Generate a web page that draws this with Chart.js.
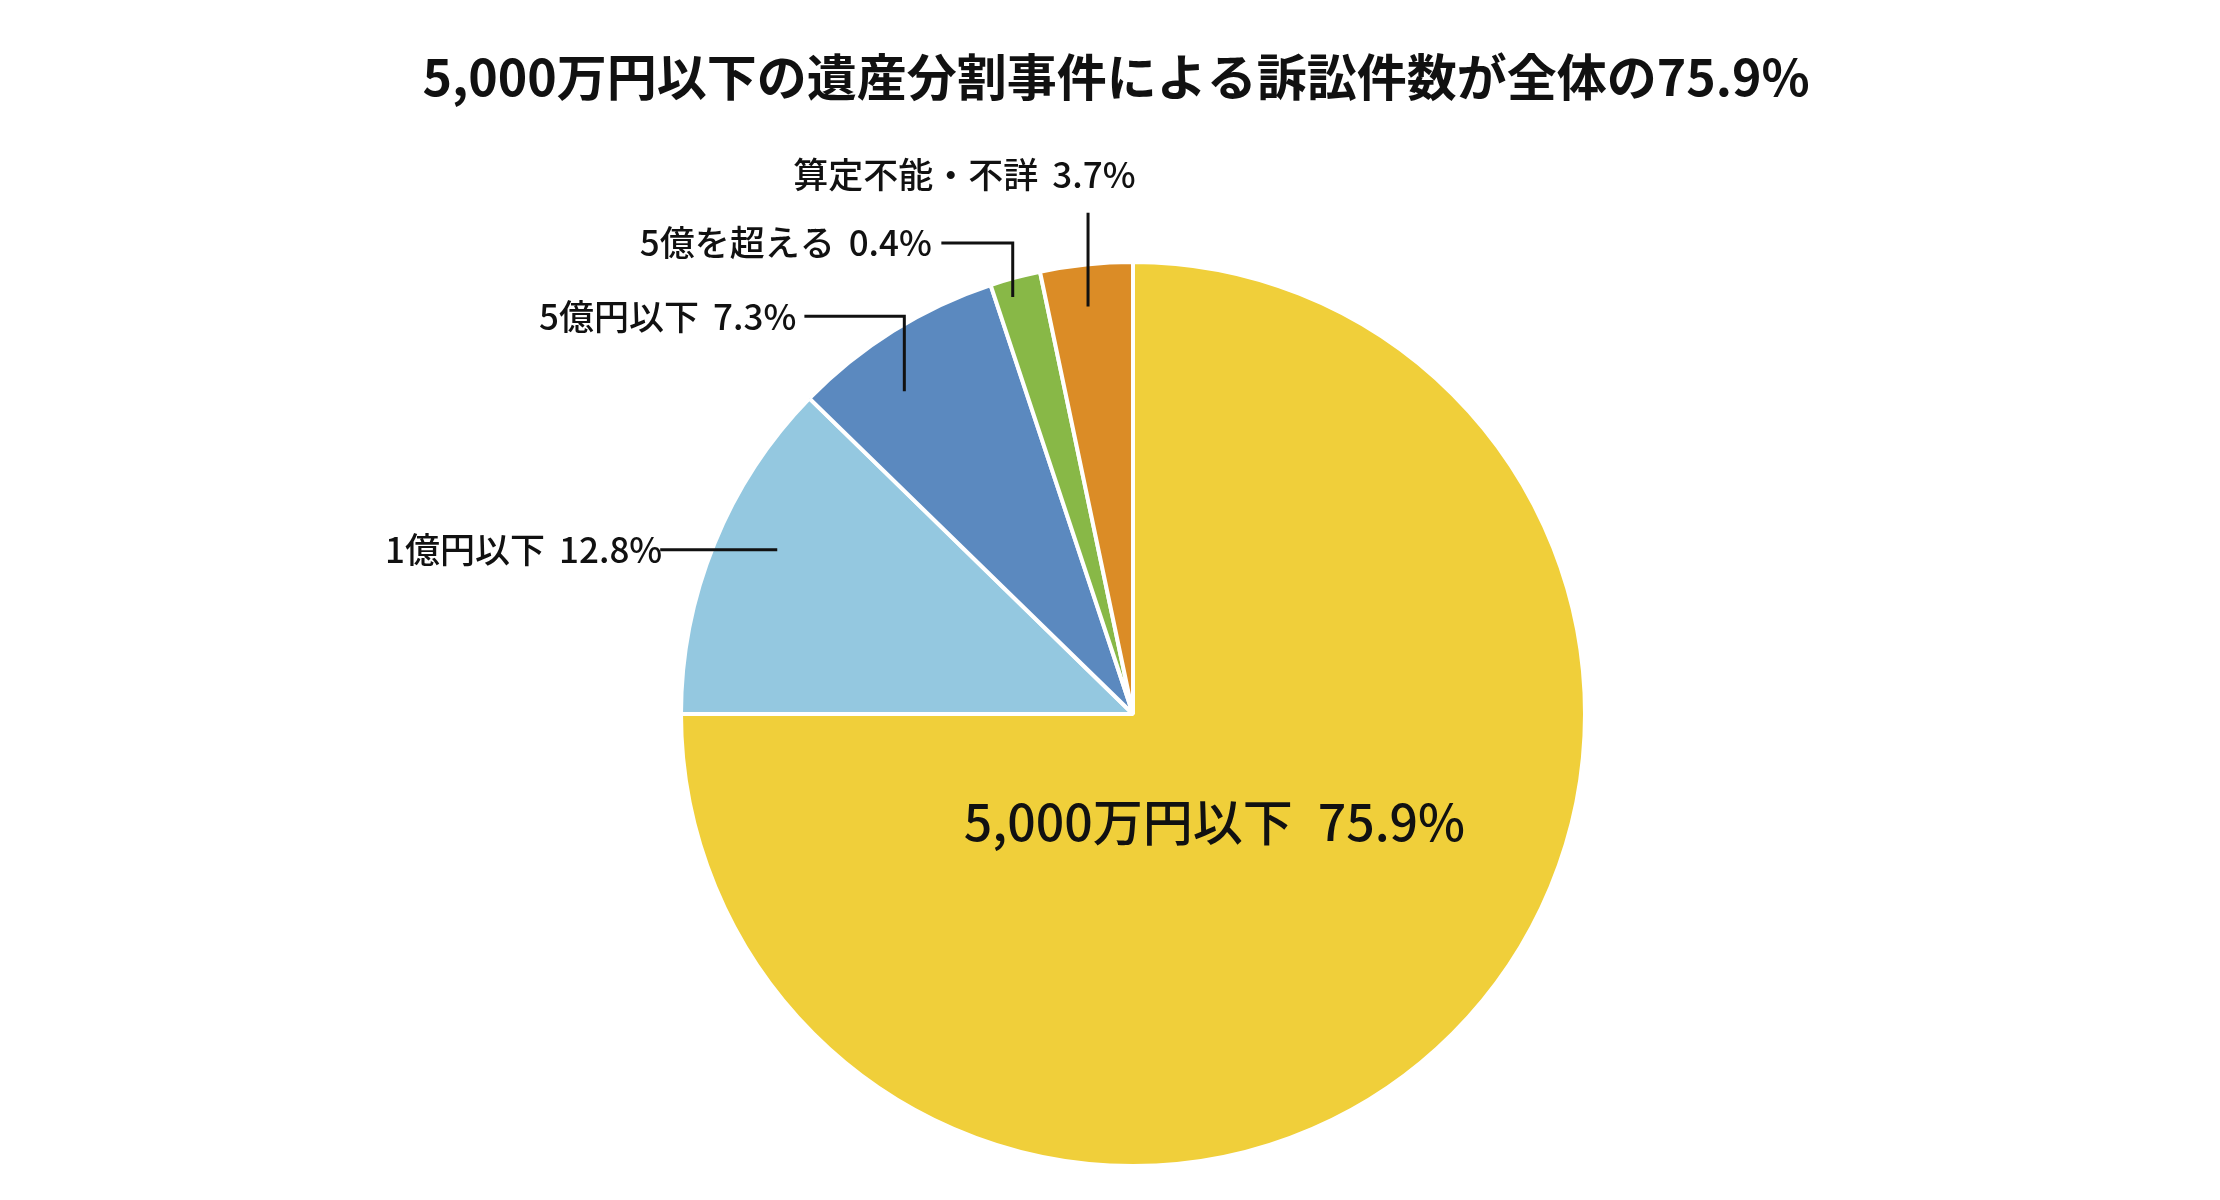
<!DOCTYPE html>
<html lang="ja">
<head>
<meta charset="UTF-8">
<title>遺産分割事件の訴訟件数</title>
<script src="https://cdn.jsdelivr.net/npm/chart.js@4.4.1/dist/chart.umd.min.js"></script>
<style>
    html, body { margin: 0; padding: 0; background: #fff; }
    #wrap { width: 2220px; height: 1200px; }
</style>
</head>
<body>
<div id="wrap"><canvas id="chart" width="2220" height="1200"></canvas></div>
<script>
const chartTitle = '5,000万円以下の遺産分割事件による訴訟件数が全体の75.9%';
const categories = ['5,000万円以下', '1億円以下', '5億円以下', '5億を超える', '算定不能・不詳'];
// ラベルに書かれている割合
const percentLabels = ['75.9%', '12.8%', '7.3%', '0.4%', '3.7%'];
// 図に描かれている扇形の大きさ
const sliceValues = [75.0, 12.3, 7.6, 1.8, 3.3];
const sliceColors = ['#F0CF3A', '#94C8E0', '#5B89BF', '#88B847', '#DB8C26'];

const fontFamily = '"Noto Sans CJK JP", "Noto Sans", sans-serif';

// 5,000万円以下 のラベル位置（半径に対する割合）
const insideLabelPos = [0.18, 0.238];

// 引き出し線の配置（半径に対する割合）
// t: 扇形の中での角度位置, r: 扇形内の起点半径
const leaderLayout = [
    { index: 1, kind: 'left',  t: 0.56, r: 0.867, lineEndX: -1.046 },
    { index: 2, kind: 'elbow', t: 0.38, r: 0.875, lineY: -0.88,  lineEndX: -0.727, textX: -0.745 },
    { index: 3, kind: 'elbow', t: 0.35, r: 0.96,  lineY: -1.042, lineEndX: -0.424, textX: -0.445 },
    { index: 4, kind: 'up',    t: 0.47, r: 0.907, lineEndY: -1.109, textX: -0.373, textY: -1.193 }
];

// 項目名と割合を少し間をあけて描く
function drawLabel(ctx, i, x, y, align, size, gap) {
    ctx.font = `500 ${size}px ${fontFamily}`;
    const name = categories[i];
    const pct = percentLabels[i];
    const w1 = ctx.measureText(name).width;
    const w2 = ctx.measureText(pct).width;
    const total = w1 + gap * size + w2;
    let left = x;
    if (align === 'right') left = x - total;
    if (align === 'center') left = x - total / 2;
    ctx.textAlign = 'left';
    ctx.fillText(name, left, y);
    ctx.fillText(pct, left + w1 + gap * size, y);
}

const sliceLabels = {
    id: 'sliceLabels',
    afterDatasetsDraw(chart) {
        const ctx = chart.ctx;
        const arcs = chart.getDatasetMeta(0).data;
        const cx = arcs[0].x;
        const cy = arcs[0].y;
        const R = arcs[0].outerRadius;

        ctx.save();
        ctx.fillStyle = '#111';
        ctx.strokeStyle = '#111';
        ctx.lineWidth = 3;
        ctx.textBaseline = 'middle';

        // タイトル
        ctx.font = `bold 50px ${fontFamily}`;
        ctx.textAlign = 'center';
        ctx.fillText(chartTitle, 1116, 77);

        // 大きい扇形の中のラベル
        drawLabel(ctx, 0, cx + insideLabelPos[0] * R, cy + insideLabelPos[1] * R, 'center', 50, 0.5);

        leaderLayout.forEach(l => {
            const arc = arcs[l.index];
            const a = arc.startAngle + (arc.endAngle - arc.startAngle) * l.t;
            const ax = cx + Math.cos(a) * R * l.r;
            const ay = cy + Math.sin(a) * R * l.r;

            ctx.beginPath();
            if (l.kind === 'left') {
                const ex = cx + l.lineEndX * R;
                ctx.moveTo(ax, ay);
                ctx.lineTo(ex, ay);
                ctx.stroke();
                drawLabel(ctx, l.index, ex + 2, ay, 'right', 35, 0.4);
            } else if (l.kind === 'elbow') {
                const ly = cy + l.lineY * R;
                const ex = cx + l.lineEndX * R;
                ctx.moveTo(ax, ay);
                ctx.lineTo(ax, ly);
                ctx.lineTo(ex, ly);
                ctx.stroke();
                drawLabel(ctx, l.index, cx + l.textX * R, ly, 'right', 35, 0.4);
            } else {
                ctx.moveTo(ax, ay);
                ctx.lineTo(ax, cy + l.lineEndY * R);
                ctx.stroke();
                drawLabel(ctx, l.index, cx + l.textX * R, cy + l.textY * R, 'center', 35, 0.4);
            }
        });
        ctx.restore();
    }
};

const ctx = document.getElementById('chart').getContext('2d');
new Chart(ctx, {
    type: 'pie',
    data: {
        labels: categories,
        datasets: [{
            data: sliceValues,
            backgroundColor: sliceColors,
            borderColor: '#ffffff',
            borderWidth: 4,
            radius: 452
        }]
    },
    options: {
        responsive: false,
        animation: false,
        layout: {
            padding: { top: 264, bottom: 36, left: 46, right: 0 }
        },
        plugins: {
            legend: { display: false },
            tooltip: { enabled: false },
            title: { display: false }
        }
    },
    plugins: [sliceLabels]
});
</script>
</body>
</html>
